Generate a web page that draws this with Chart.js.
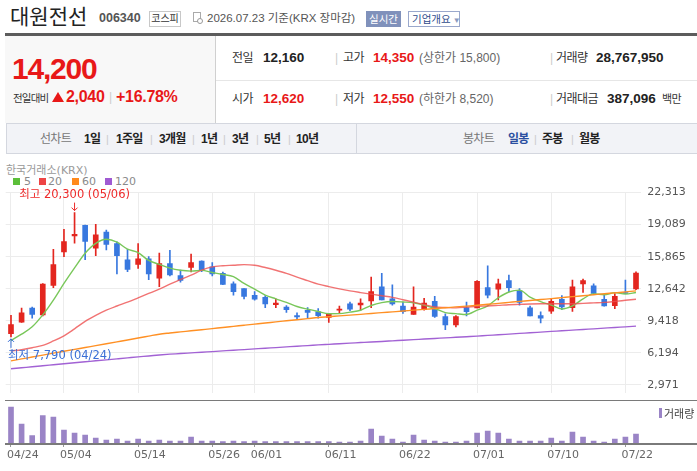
<!DOCTYPE html>
<html lang="ko">
<head>
<meta charset="utf-8">
<title>대원전선 006340</title>
<script src="https://cdn.jsdelivr.net/npm/chart.js@4.4.1/dist/chart.umd.min.js"></script>
<style>
  html, body { margin: 0; padding: 0; background: #fff; }
  body { position: relative; width: 697px; height: 471px; overflow: hidden;
         font-family: "Liberation Sans", "Noto Sans CJK KR", sans-serif; color: #222; }
  .t { position: absolute; white-space: nowrap; line-height: 20px; }
  .lbl { font-size: 12px; letter-spacing: -0.5px; color: #333; }
  .num { font-size: 13.5px; font-weight: bold; color: #222; }
  .red { color: #e81818; }
  .sub { font-size: 12px; color: #666; }
  .bar { font-size: 12px; color: #ccc; }
  .tab { font-size: 12px; font-weight: bold; letter-spacing: -0.7px; color: #222; line-height: 20px; top: 129px; }
  .tsep { font-size: 11px; color: #ccc; line-height: 20px; top: 129px; }
  .chart-txt { font-family: "DejaVu Sans", "Noto Sans CJK KR", sans-serif; font-size: 11px; color: #8a8a8a; }
  .sq { position: absolute; width: 7px; height: 7px; top: 178px; }
  #priceWrap { position: absolute; left: 0; top: 180px; width: 697px; height: 226px; }
  #volWrap { position: absolute; left: 0; top: 400px; width: 697px; height: 71px; }
  .hline { position: absolute; left: 5px; width: 692px; height: 1.5px; background: #7a7a7a; z-index: 2; }
</style>
</head>
<body>

<!-- 종목명 헤더 -->
<div class="t" style="left:10px; top:3px; font-size:21px; line-height:24px; color:#222; font-family:'Noto Sans CJK KR';">대원전선</div>
<div class="t" style="left:99px; top:10px; font-size:12.5px; line-height:16px; font-weight:bold; color:#555;">006340</div>
<div class="t" style="left:149px; top:11px; width:32px; height:16px; box-sizing:border-box; border:1px solid #c8c8c8; font-size:10px; line-height:14px; text-align:center; color:#333;">코스피</div>
<div style="position:absolute; left:193px; top:12px; width:8px; height:10px; border:1px solid #aaa; box-sizing:border-box;"></div>
<div style="position:absolute; left:197px; top:18px; width:6px; height:6px; border:1px solid #999; border-radius:50%; background:#fff; box-sizing:border-box;"></div>
<div class="t" style="left:207px; top:10px; font-size:11.5px; line-height:16px; color:#555;">2026.07.23 기준(KRX 장마감)</div>
<div class="t" style="left:366px; top:11px; width:35px; height:16px; background:#8091bb; color:#fff; font-size:10.5px; line-height:16px; text-align:center;">실시간</div>
<div class="t" style="left:408px; top:11px; width:52px; height:16px; box-sizing:border-box; border:1px solid #9aa8cc; color:#2f4c8c; font-size:10.5px; line-height:14px; padding-left:3px;">기업개요<span style="font-size:8px; color:#8a9ac0;"> ▼</span></div>

<div style="position:absolute; left:5px; top:33px; width:692px; height:3px; background:#5c5c5c;"></div>

<!-- 현재가 -->
<div style="position:absolute; left:5px; top:36px; width:210px; height:87px; background:#f8f8f8; border-right:1px solid #d0d0d0;"></div>
<div class="t red" style="left:12px; top:53px; font-size:30px; line-height:32px; font-weight:bold; letter-spacing:-1.2px;">14,200</div>
<div class="t" style="left:13px; top:88px; font-size:10.5px; letter-spacing:-0.8px; color:#333; font-family:'Noto Sans CJK KR';">전일대비</div>
<div style="position:absolute; left:52px; top:92px; width:0; height:0; border-left:6.5px solid transparent; border-right:6.5px solid transparent; border-bottom:10px solid #e81818;"></div>
<div class="t red" style="left:66px; top:87px; font-size:16px; font-weight:bold; letter-spacing:-0.3px;">2,040</div>
<div class="t bar" style="left:109px; top:87px;">|</div>
<div class="t red" style="left:116px; top:87px; font-size:16px; font-weight:bold; letter-spacing:-0.3px;">+16.78%</div>

<div style="position:absolute; left:216px; top:80px; width:481px; height:1px; background:#e6e6e6;"></div>

<div class="t lbl" style="left:232px; top:48px;">전일</div>
<div class="t num" style="left:263px; top:48px;">12,160</div>
<div class="t bar" style="left:335px; top:48px;">|</div>
<div class="t lbl" style="left:343px; top:48px;">고가</div>
<div class="t num red" style="left:373px; top:48px;">14,350</div>
<div class="t sub" style="left:419px; top:48px;">(상한가 15,800)</div>
<div class="t bar" style="left:550px; top:48px;">|</div>
<div class="t lbl" style="left:556px; top:48px;">거래량</div>
<div class="t num" style="left:596px; top:48px;">28,767,950</div>

<div class="t lbl" style="left:232px; top:89px;">시가</div>
<div class="t num red" style="left:263px; top:89px;">12,620</div>
<div class="t bar" style="left:335px; top:89px;">|</div>
<div class="t lbl" style="left:343px; top:89px;">저가</div>
<div class="t num red" style="left:373px; top:89px;">12,550</div>
<div class="t sub" style="left:419px; top:89px;">(하한가 8,520)</div>
<div class="t bar" style="left:550px; top:89px;">|</div>
<div class="t lbl" style="left:556px; top:89px;">거래대금</div>
<div class="t num" style="left:607px; top:89px;">387,096</div>
<div class="t lbl" style="left:662px; top:89px; font-size:11px;">백만</div>

<!-- 차트 탭 -->
<div style="position:absolute; left:6px; top:123px; width:700px; height:31px; box-sizing:border-box; background:#f2f3f7; border:1px solid #d4d7df;"></div>
<div style="position:absolute; left:356px; top:124px; width:1px; height:29px; background:#d4d7df;"></div>
<div class="t tab" style="left:40px; color:#777; font-weight:normal;">선차트</div>
<div class="t tab" style="left:84px;">1일</div>
<div class="t tsep" style="left:106px;">|</div>
<div class="t tab" style="left:116px;">1주일</div>
<div class="t tsep" style="left:150px;">|</div>
<div class="t tab" style="left:159px;">3개월</div>
<div class="t tsep" style="left:192px;">|</div>
<div class="t tab" style="left:201px;">1년</div>
<div class="t tsep" style="left:223px;">|</div>
<div class="t tab" style="left:232px;">3년</div>
<div class="t tsep" style="left:256px;">|</div>
<div class="t tab" style="left:264px;">5년</div>
<div class="t tsep" style="left:288px;">|</div>
<div class="t tab" style="left:296px;">10년</div>
<div class="t tab" style="left:463px; color:#777; font-weight:normal;">봉차트</div>
<div class="t tab" style="left:508px; color:#2b4fa0;">일봉</div>
<div class="t tsep" style="left:534px;">|</div>
<div class="t tab" style="left:542px;">주봉</div>
<div class="t tsep" style="left:571px;">|</div>
<div class="t tab" style="left:579px;">월봉</div>

<!-- 차트 범례 -->
<div class="t chart-txt" style="left:6px; top:164px; line-height:14px; color:#999;">한국거래소(KRX)</div>
<div class="sq" style="left:13px; background:#5cbf3a;"></div>
<div class="t chart-txt" style="left:24px; top:175px; line-height:13px;">5</div>
<div class="sq" style="left:39px; background:#ee4444;"></div>
<div class="t chart-txt" style="left:48px; top:175px; line-height:13px;">20</div>
<div class="sq" style="left:72px; background:#ff8a1c;"></div>
<div class="t chart-txt" style="left:82px; top:175px; line-height:13px;">60</div>
<div class="sq" style="left:105px; background:#a05ad2;"></div>
<div class="t chart-txt" style="left:115px; top:175px; line-height:13px;">120</div>

<div id="priceWrap"><canvas id="priceChart"></canvas></div>
<div id="volWrap"><canvas id="volChart"></canvas></div>
<div class="hline" style="top:399.5px;"></div>
<div class="hline" style="top:443px;"></div>
<div style="position:absolute; left:659px; top:408px; width:3px; height:10px; background:#9a84c6;"></div>
<div class="t" style="left:664px; top:405px; font-size:11px; line-height:16px; color:#444; font-family:'Noto Sans CJK KR';">거래량</div>

<script>
// 거래일 (일봉 60개)
const DATES = ['04/24','04/27','04/28','04/29','04/30','05/04','05/06','05/07','05/08','05/11',
    '05/12','05/13','05/14','05/15','05/18','05/19','05/20','05/21','05/22','05/26',
    '05/27','05/28','05/29','06/01','06/02','06/04','06/05','06/08','06/09','06/10',
    '06/11','06/12','06/15','06/16','06/17','06/18','06/19','06/22','06/23','06/24',
    '06/25','06/26','06/29','06/30','07/01','07/02','07/03','07/06','07/07','07/08',
    '07/09','07/10','07/13','07/14','07/15','07/16','07/20','07/21','07/22','07/23'];
const X_TICK_LABELS = ['04/24','05/04','05/14','05/26','06/01','06/11','06/22','07/01','07/10','07/22'];
const PRICE_TICKS = [2971, 6194, 9418, 12642, 15865, 19089, 22313];

const OPEN = [8120,9280,10700,10000,12960,16350,17950,19030,16710,18350,17190,15550,15090,15640,13710,
    15160,13970,14770,15420,14840,14190,13130,12640,11960,11770,11030,10800,9930,10450,10320,
    9740,10480,11120,11000,11410,12840,11610,10900,10060,10540,11380,9840,8990,10740,10710,
    12740,12580,13450,12420,10710,9930,10390,11580,10740,13130,12930,11580,10930,12260,12620];
const HIGH = [9950,10700,10800,13150,16610,18610,20300,19050,19130,18550,17350,16610,17190,15870,16220,
    16510,14510,16130,15450,15260,14320,13320,12660,12350,11940,11610,10930,10220,10740,10640,
    10160,10900,11290,11610,13800,14190,13030,11290,12840,11670,11870,10100,9930,11290,13450,
    14940,13610,14000,12640,10900,10320,11610,11940,13510,13610,13130,12030,12160,13510,14350];
const LOW = [7790,9250,9670,9900,12740,15870,17220,15550,15960,16540,14120,14350,14680,13540,12840,
    13930,13290,14320,14350,13930,13050,11990,11610,11480,10740,10740,10250,9570,9670,9670,
    9250,10160,10420,10480,10740,11500,10970,10160,10050,10480,9740,8510,8800,9900,10700,
    11700,11510,12320,10970,9900,9190,10160,10540,10350,12260,12140,10890,10640,12130,12550];
const CLOSE = [9030,10220,10060,13100,15060,17390,18100,17410,18060,17100,15960,14580,15640,14120,15160,
    14030,13480,15260,14450,14120,13060,12350,11870,11580,11120,11190,10540,9810,10250,9930,
    10060,10580,10570,11190,12350,11510,11120,10320,10800,11190,9840,8990,9840,10320,13390,
    11990,13130,12740,11260,9900,9670,11360,10800,12840,13450,12160,10900,11870,12160,14200];

// 이동평균선
const MA5 = [7420,8060,8800,10000,11490,13170,14740,16210,17200,17610,17330,16620,16270,15480,15090,
    14710,14490,14410,14480,14270,14070,13850,13170,12600,12000,11620,11260,10850,10580,10340,
    10120,10130,10280,10470,10950,11240,11350,11300,11220,10990,10650,10230,10130,10040,10480,
    10910,11730,12310,12500,11800,11340,10990,10600,10910,11620,12120,12030,12240,12110,12260];
const MA20 = [6380,6500,6700,6930,7380,7900,8600,9350,9950,10480,10900,11290,11720,12160,12600,
    13100,13550,14000,14510,14840,14950,15000,15060,15000,14770,14500,14190,13800,13450,13100,
    12850,12620,12420,12250,12090,11930,11770,11530,11290,11040,10800,10750,10710,10780,10870,
    10900,10960,11025,11060,11100,11120,11120,11120,11120,11160,11210,11260,11360,11470,11580];
const MA60 = [5380,5570,5760,5950,6150,6340,6530,6720,6910,7100,7290,7480,7680,7870,8060,
    8180,8290,8400,8510,8620,8740,8850,8960,9070,9180,9300,9410,9520,9630,9740,
    9820,9900,9980,10060,10150,10230,10310,10390,10480,10560,10640,10720,10810,10890,10970,
    11070,11160,11260,11360,11450,11550,11640,11740,11840,11930,12030,12130,12220,12320,12420];
const MA120 = [4580,4680,4780,4880,4980,5080,5180,5280,5380,5480,5580,5680,5780,5870,5970,
    6050,6110,6180,6250,6310,6380,6450,6510,6580,6650,6710,6780,6850,6910,6980,
    7040,7100,7160,7220,7280,7330,7390,7450,7510,7570,7630,7690,7750,7810,7870,
    7940,8000,8070,8140,8200,8270,8340,8400,8470,8540,8600,8670,8740,8800,8870];

const VOLUME = [115100000,60700000,23400000,87400000,83100000,41600000,32000000,25600000,16000000,9600000,
    12800000,6400000,12800000,6400000,9600000,6400000,6400000,19200000,6400000,6400000,
    4300000,6400000,4300000,6400000,4300000,4300000,4300000,4300000,4300000,4300000,
    4300000,3200000,3200000,6400000,44800000,22400000,12800000,3200000,25600000,9600000,
    6400000,3200000,3200000,6400000,32000000,38400000,32000000,12800000,6400000,6400000,
    6400000,16000000,6400000,35200000,19200000,6400000,3200000,12800000,19200000,28767950];

const UP_COLOR = '#e3261f';
const DOWN_COLOR = '#3878df';
const GRID_COLOR = '#ececec';
const AXIS_FONT = { family: '"DejaVu Sans", "Noto Sans CJK KR"', size: 11 };
const PLOT_LEFT = 5.7;
const AXIS_WIDTH = 55.7;

const candleColors = OPEN.map((o, i) => CLOSE[i] >= o ? UP_COLOR : DOWN_COLOR);
const isTickIndex = (i) => X_TICK_LABELS.includes(DATES[i]);

/**
 * 최고가 / 최저가 표시 (화살표 + 텍스트)
 */
const drawArrow = (ctx, x, from, to) => {
    const dir = to > from ? 1 : -1;
    ctx.beginPath();
    ctx.moveTo(x, from);
    ctx.lineTo(x, to);
    ctx.moveTo(x - 3, to - dir * 3);
    ctx.lineTo(x, to);
    ctx.lineTo(x + 3, to - dir * 3);
    ctx.stroke();
};

const highLowPlugin = {
    id: 'highLow',
    afterDatasetsDraw: (chart) => {
        const ctx = chart.ctx;
        const { x, y } = chart.scales;
        const hi = Math.max(...HIGH);
        const hiIdx = HIGH.indexOf(hi);
        const lo = Math.min(...LOW);
        const loIdx = LOW.indexOf(lo);
        ctx.save();
        ctx.font = '11.5px "DejaVu Sans", "Noto Sans CJK KR"';
        ctx.textBaseline = 'middle';
        ctx.lineWidth = 1;

        const hx = x.getPixelForValue(hiIdx);
        const hy = y.getPixelForValue(hi);
        ctx.strokeStyle = ctx.fillStyle = '#ee2a2a';
        drawArrow(ctx, hx, hy - 10, hy - 2);
        const hiText = `최고 ${hi.toLocaleString('en-US')} (${DATES[hiIdx]})`;
        ctx.textAlign = 'left';
        const hw = ctx.measureText(hiText).width;
        ctx.fillText(hiText, Math.max(hx - hw / 2, chart.chartArea.left + 2.3), hy - 17.5);

        const lx = x.getPixelForValue(loIdx);
        const ly = y.getPixelForValue(lo);
        ctx.strokeStyle = ctx.fillStyle = '#3a6fd6';
        drawArrow(ctx, lx, ly + 11, ly + 2);
        const loText = `최저 ${lo.toLocaleString('en-US')} (${DATES[loIdx]})`;
        const lw = ctx.measureText(loText).width;
        ctx.fillText(loText, Math.max(lx - lw / 2, chart.chartArea.left + 2.3), ly + 19);
        ctx.restore();
    }
};

const maLine = (data, color) => ({
    type: 'line',
    data: data,
    borderColor: color,
    borderWidth: 1.4,
    pointRadius: 0,
    cubicInterpolationMode: 'monotone',
    order: 0
});

const priceRange = PRICE_TICKS[PRICE_TICKS.length - 1] - PRICE_TICKS[0];

new Chart(document.getElementById('priceChart'), {
    type: 'bar',
    data: {
        labels: DATES,
        datasets: [
            maLine(MA120, '#a262d4'),
            maLine(MA60, '#ff9024'),
            maLine(MA20, 'rgba(238,80,80,0.8)'),
            maLine(MA5, '#79c75a'),
            {
                // 꼬리
                data: LOW.map((l, i) => [l, HIGH[i]]),
                backgroundColor: candleColors,
                barThickness: 1,
                grouped: false,
                order: 2
            },
            {
                // 몸통
                data: OPEN.map((o, i) => [o, CLOSE[i]]),
                backgroundColor: candleColors,
                barThickness: 5,
                minBarLength: 1,
                grouped: false,
                order: 1
            }
        ]
    },
    options: {
        responsive: true,
        maintainAspectRatio: false,
        animation: false,
        layout: { padding: { left: PLOT_LEFT, right: 0, top: 11, bottom: 6 } },
        plugins: { legend: { display: false }, tooltip: { enabled: false } },
        scales: {
            x: {
                offset: true,
                ticks: { display: false, autoSkip: false },
                grid: {
                    offset: false,
                    drawTicks: false,
                    color: (c) => isTickIndex(c.index) ? GRID_COLOR : 'transparent'
                },
                border: { display: false },
                afterFit: (s) => { s.height = 0; }
            },
            y: {
                position: 'right',
                min: PRICE_TICKS[0] - priceRange * 9 / 200,
                max: PRICE_TICKS[PRICE_TICKS.length - 1],
                afterBuildTicks: (s) => { s.ticks = PRICE_TICKS.map(v => ({ value: v })); },
                afterFit: (s) => { s.width = AXIS_WIDTH; },
                ticks: {
                    font: AXIS_FONT,
                    color: '#555',
                    padding: 6,
                    callback: (v) => v.toLocaleString('en-US')
                },
                grid: { color: GRID_COLOR, drawTicks: false },
                border: { display: false }
            }
        }
    },
    plugins: [highLowPlugin]
});

new Chart(document.getElementById('volChart'), {
    type: 'bar',
    data: {
        labels: DATES,
        datasets: [{
            data: VOLUME,
            backgroundColor: '#9a84c6',
            barThickness: 5
        }]
    },
    options: {
        responsive: true,
        maintainAspectRatio: false,
        animation: false,
        layout: { padding: { left: PLOT_LEFT, right: 0, top: 2, bottom: 8 } },
        plugins: { legend: { display: false }, tooltip: { enabled: false } },
        scales: {
            x: {
                offset: true,
                ticks: {
                    autoSkip: false,
                    maxRotation: 0,
                    align: 'start',
                    labelOffset: -4,
                    padding: 2,
                    font: AXIS_FONT,
                    color: '#666',
                    callback: (v, i) => isTickIndex(i) ? DATES[i] : ''
                },
                grid: {
                    offset: false,
                    drawOnChartArea: false,
                    tickLength: 4,
                    color: (c) => isTickIndex(c.index) ? '#999' : 'transparent'
                },
                border: { display: false },
                afterFit: (s) => { s.height = 20; }
            },
            y: {
                position: 'right',
                min: 0,
                max: Math.max(...VOLUME) * 41 / 36,
                ticks: { display: false },
                grid: { display: false },
                border: { display: false },
                afterFit: (s) => { s.width = AXIS_WIDTH; }
            }
        }
    }
});
</script>
</body>
</html>
